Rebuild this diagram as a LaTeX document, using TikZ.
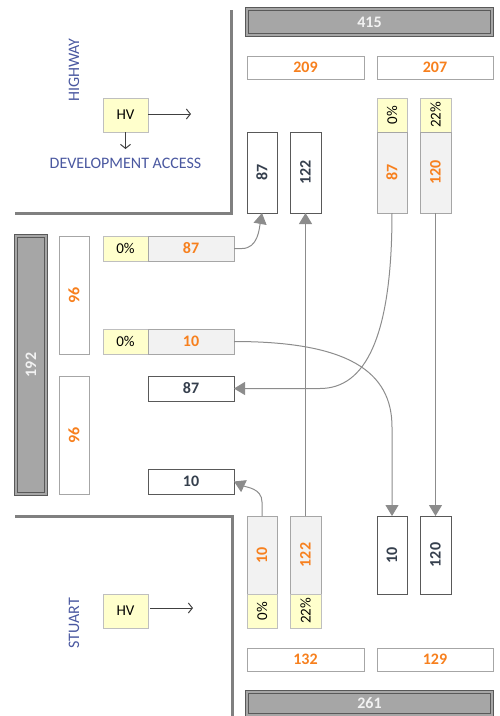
\documentclass[tikz,border=0pt]{standalone}
\usepackage{fontspec}
\setmainfont{Carlito}
\usetikzlibrary{arrows.meta,calc}
\definecolor{orng}{HTML}{F7801E}
\definecolor{dtxt}{HTML}{353F4D}
\definecolor{lbl}{HTML}{4A58A0}
\definecolor{boxdark}{HTML}{595959}
\definecolor{boxlight}{HTML}{A6A6A6}
\definecolor{greyfill}{HTML}{F2F2F2}
\definecolor{yfill}{HTML}{FFFFCC}
\definecolor{yborder}{HTML}{BFBFBF}
\definecolor{totfill}{HTML}{A6A6A6}
\definecolor{road}{HTML}{808080}
\definecolor{conn}{HTML}{8C8C8C}
\begin{document}
\begin{tikzpicture}[x=1pt,y=1pt,
  base/.style={inner sep=0pt, outer sep=0pt, line width=0.9pt, font=\fontsize{16}{18}\selectfont\bfseries},
  whitebox/.style={base, draw=boxdark, fill=white, text=dtxt},
  lightbox/.style={base, draw=boxlight, fill=white, text=orng},
  greybox/.style={base, draw=boxlight, fill=greyfill, text=orng},
  pctbox/.style={base, draw=yborder, fill=yfill, text=black, font=\fontsize{15}{17}\selectfont},
  totalbox/.style={base, draw=boxdark, line width=0.8pt, double=totfill, double distance=1.6pt, fill=totfill, text=greyfill},
  hvbox/.style={base, draw=yborder, fill=yfill, text=black, font=\fontsize{15}{17}\selectfont},
  roadlabel/.style={inner sep=0pt, text=lbl, font=\fontsize{16}{18}\selectfont},
  roadline/.style={draw=road, line width=3pt},
  flow/.style={draw=conn, line width=1pt, -{Triangle[width=13pt,length=11pt]}},
  hvarrow/.style={draw=black!75, line width=1pt, -{Straight Barb[length=4pt,width=10pt,line width=1pt]}}
]
\useasboundingbox (0,0) rectangle (499,-716);

% roads
\draw[roadline] (15,-213) -- (231,-213) -- (231,-10);
\draw[roadline] (15,-516) -- (232,-516) -- (232,-718);

% totals
\node[totalbox, minimum width=245, minimum height=26] (t415) at (369.5,-22) {415};
\node[totalbox, minimum width=245, minimum height=23] (t261) at (369.5,-703.5) {261};
\node[totalbox, minimum width=30, minimum height=258] (t192) at (31,-365) {\rotatebox{90}{192}};

% top approach
\node[lightbox, minimum width=117, minimum height=23] (b209) at (305.5,-67.5) {209};
\node[lightbox, minimum width=116, minimum height=23] (b207) at (435,-67.5) {207};
\node[whitebox, minimum width=30, minimum height=81] (t87) at (262,-172.5) {\rotatebox{90}{87}};
\node[whitebox, minimum width=31, minimum height=81] (t122) at (305.5,-172.5) {\rotatebox{90}{122}};
\node[pctbox, minimum width=30, minimum height=34] (tp0) at (392,-115) {\rotatebox{90}{0\%}};
\node[greybox, minimum width=30, minimum height=81] (tg87) at (392,-172.5) {\rotatebox{90}{87}};
\node[pctbox, minimum width=31, minimum height=34] (tp22) at (435.5,-115) {\rotatebox{90}{22\%}};
\node[greybox, minimum width=31, minimum height=81] (tg120) at (435.5,-172.5) {\rotatebox{90}{120}};

% left approach
\node[lightbox, minimum width=30, minimum height=118] (w96a) at (74,-295) {\rotatebox{90}{96}};
\node[lightbox, minimum width=30, minimum height=118] (w96b) at (74,-435) {\rotatebox{90}{96}};
\node[pctbox, minimum width=45, minimum height=25] (lp0a) at (125.5,-248.5) {0\%};
\node[greybox, minimum width=86, minimum height=25] (lg87) at (191,-248.5) {87};
\node[pctbox, minimum width=45, minimum height=25] (lp0b) at (125.5,-341.5) {0\%};
\node[greybox, minimum width=86, minimum height=25] (lg10) at (191,-341.5) {10};
\node[whitebox, minimum width=86, minimum height=25] (lw87) at (191,-388.5) {87};
\node[whitebox, minimum width=86, minimum height=25] (lw10) at (191,-481.5) {10};

% bottom approach
\node[greybox, minimum width=30, minimum height=78] (bg10) at (262,-555) {\rotatebox{90}{10}};
\node[pctbox, minimum width=30, minimum height=34] (bp0) at (262,-611) {\rotatebox{90}{0\%}};
\node[greybox, minimum width=31, minimum height=78] (bg122) at (305.5,-555) {\rotatebox{90}{122}};
\node[pctbox, minimum width=31, minimum height=34] (bp22) at (305.5,-611) {\rotatebox{90}{22\%}};
\node[whitebox, minimum width=30, minimum height=78] (bw10) at (392,-555) {\rotatebox{90}{10}};
\node[whitebox, minimum width=31, minimum height=78] (bw120) at (435.5,-555) {\rotatebox{90}{120}};
\node[lightbox, minimum width=117, minimum height=23] (b132) at (305.5,-659.5) {132};
\node[lightbox, minimum width=116, minimum height=23] (b129) at (435,-659.5) {129};

% labels and HV
\node[roadlabel, rotate=90] (hwy) at (74,-70) {HIGHWAY};
\node[roadlabel, rotate=90] (stu) at (74,-623) {STUART};
\node[hvbox, minimum width=45, minimum height=34] (hv1) at (125.5,-115) {HV};
\node[hvbox, minimum width=45, minimum height=34] (hv2) at (125.5,-611) {HV};
\node[roadlabel] (dev) at (125.5,-163) {DEVELOPMENT ACCESS};
\coordinate (hv1r) at (191,-114);
\coordinate (hv1d) at (125.5,-149);
\coordinate (hv2s) at (150,-608);
\coordinate (hv2r) at (193,-608);
\draw[hvarrow] (hv1.east |- hv1r) -- (hv1r);
\draw[hvarrow] (hv1.south) -- (hv1d);
\draw[hvarrow] (hv2s) -- (hv2r);

% flows
\draw[flow] (lg87.east) -- ++(8,0) to[out=0,in=-100] (t87.south);
\draw[flow] (bg122.north) -- (t122.south);
\draw[flow] (tg87.south) .. controls +(0,-125) and +(45,0) .. ($(lw87.east)+(86,0)$) -- (lw87.east);
\draw[flow] (lg10.east) .. controls +(115,0) and +(0,55) .. ($(bw10.north)+(0,89)$) -- (bw10.north);
\draw[flow] (tg120.south) -- (bw120.north);
\draw[flow] (bg10.north) -- ++(0,14) to[out=90,in=-25] (lw10.east);
\end{tikzpicture}
\end{document}
